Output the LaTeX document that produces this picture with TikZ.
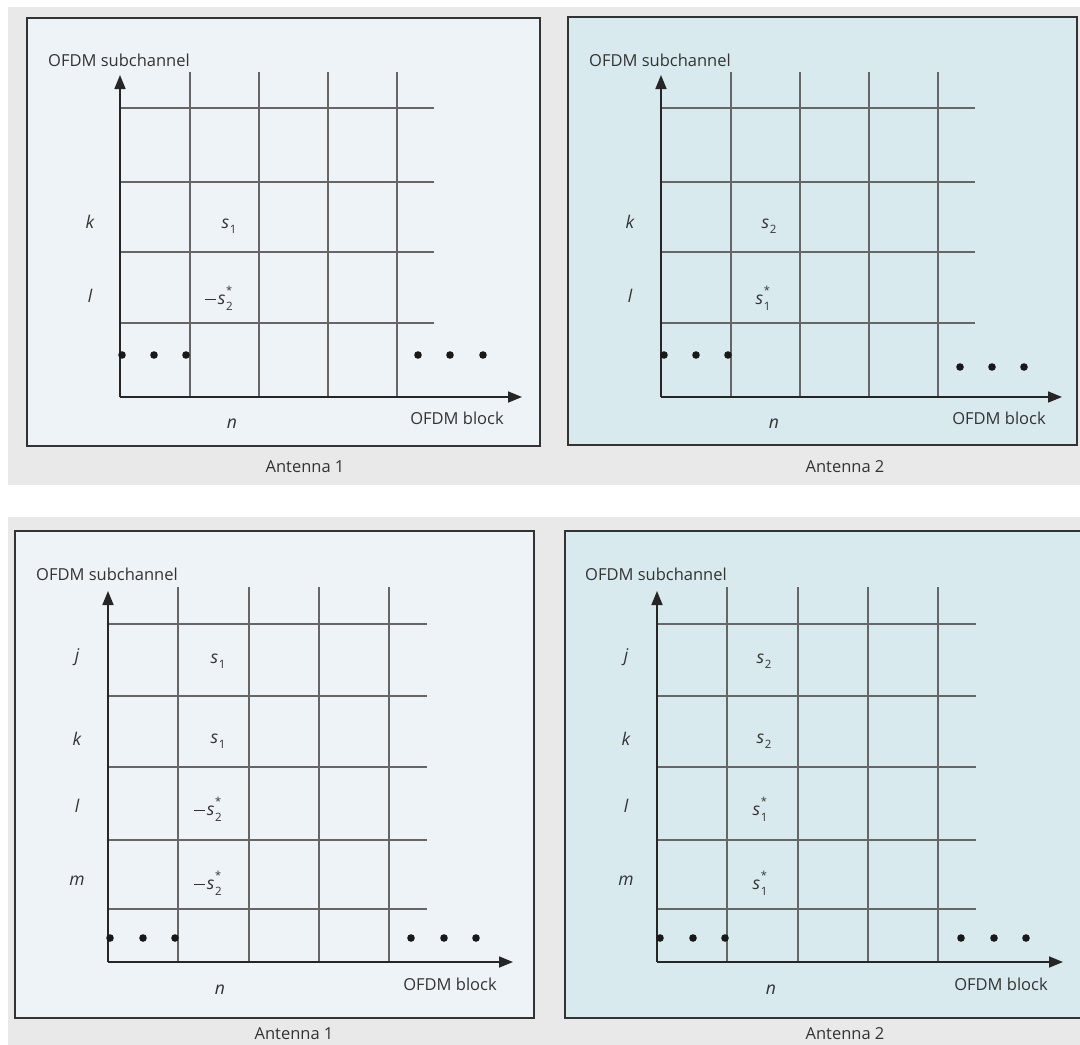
\documentclass[tikz,border=0pt]{standalone}
\usepackage{fontspec}
\setmainfont{Open Sans}
\usetikzlibrary{arrows.meta}
\definecolor{fondgris}{HTML}{E9E9E9}
\definecolor{antA}{HTML}{EEF3F7}
\definecolor{antB}{HTML}{D8EAEE}
\definecolor{encre}{HTML}{333333}
\newcommand{\moins}{\rule[0.27em]{0.6em}{0.07em}\hspace{0.12em}}
\newcommand{\sconj}[1]{\textit{s}\hspace{0.05em}\makebox[0pt][l]{\raisebox{0.6em}{\fontsize{11}{11}\selectfont\upshape *}}\raisebox{-0.3em}{\fontsize{11.5}{11.5}\selectfont\upshape #1}}
\newcommand{\ssub}[1]{\textit{s}\hspace{0.05em}\raisebox{-0.3em}{\fontsize{11.5}{11.5}\selectfont\upshape #1}}
\tikzset{cadre/.style={draw=encre,line width=1.6pt},axe/.style={-{Triangle[length=14pt,width=11pt]},draw=black!85,line width=1.7pt},grille/.style={draw=black!60,line width=1.1pt},lbl/.style={font=\fontsize{16.5}{19}\selectfont,text=encre,inner sep=0pt},sym/.style={font=\fontsize{17.5}{20}\selectfont\itshape,text=encre,inner sep=0pt},pt/.style={fill=black!90}}

\begin{document}
\begin{tikzpicture}[x=1pt,y=-1pt]
\useasboundingbox (0,0) rectangle (1080,1045);
\fill[white] (0,0) rectangle (1080,1045);
\fill[fondgris] (8,7) rectangle (1080,485);
\fill[fondgris] (8,517) rectangle (1080,1045);
% haut : alamouti sur deux sous-porteuses
\filldraw[cadre,fill=antA] (27,18) rectangle (540,446);
\filldraw[cadre,fill=antB] (568,17) rectangle (1077,445);
\foreach \dx in {0,541}{
  \begin{scope}[xshift=\dx]
  \foreach \c in {190,259,328,397} \draw[grille] (\c,72) -- (\c,397);
  \foreach \r in {108,182,252,323} \draw[grille] (120,\r) -- (434,\r);
  \end{scope}}
\coordinate (o1) at (120,397); \coordinate (y1) at (120,75); \coordinate (x1) at (522,397);
\coordinate (o2) at (661,397); \coordinate (y2) at (661,75); \coordinate (x2) at (1062,397);
\draw[axe] (o1) -- (y1); \draw[axe] (o1) -- (x1);
\draw[axe] (o2) -- (y2); \draw[axe] (o2) -- (x2);
\foreach \x in {122,154,186,418,450,483} \fill[pt] (\x,355) circle (3.8pt);
\foreach \x in {664,696,728} \fill[pt] (\x,355) circle (3.8pt);
\foreach \x in {960,992,1024} \fill[pt] (\x,367) circle (3.8pt);
\node[lbl] (sc1) at (119,60) {OFDM subchannel};
\node[lbl] (sc2) at (660,60) {OFDM subchannel};
\node[lbl] (bl1) at (457,418) {OFDM block};
\node[lbl] (bl2) at (999,418) {OFDM block};
\node[lbl] (an1) at (305,467) {Antenna 1};
\node[lbl] (an2) at (845,467) {Antenna 2};
\node[sym] (k1) at (90,222) {k}; \node[sym] (l1) at (90,296) {l}; \node[sym] (n1) at (232,424) {n};
\node[sym] (k2) at (630,222) {k}; \node[sym] (l2) at (630,296) {l}; \node[sym] (n2) at (774,424) {n};
\node[sym] (a11) at (229,226) {\ssub{1}}; \node[sym] (a12) at (219,298) {\moins\sconj{2}};
\node[sym] (b11) at (769,226) {\ssub{2}}; \node[sym] (b12) at (763,298) {\sconj{1}};
% bas : repetition sur quatre sous-porteuses
\filldraw[cadre,fill=antA] (15,531) rectangle (534,1018);
\filldraw[cadre,fill=antB] (565,531) rectangle (1084,1018);
\foreach \dx in {0,549}{
  \begin{scope}[xshift=\dx]
  \foreach \c in {178,249,319,389} \draw[grille] (\c,587) -- (\c,962);
  \foreach \r in {624,696,767,840,909} \draw[grille] (108,\r) -- (427,\r);
  \end{scope}}
\coordinate (o3) at (108,962); \coordinate (y3) at (108,591); \coordinate (x3) at (513,962);
\coordinate (o4) at (657,962); \coordinate (y4) at (657,591); \coordinate (x4) at (1063,962);
\draw[axe] (o3) -- (y3); \draw[axe] (o3) -- (x3);
\draw[axe] (o4) -- (y4); \draw[axe] (o4) -- (x4);
\foreach \x in {110,143,175,411,444,476,660,693,725,961,994,1026} \fill[pt] (\x,938) circle (3.8pt);
\node[lbl] (sc3) at (107,574) {OFDM subchannel};
\node[lbl] (sc4) at (656,574) {OFDM subchannel};
\node[lbl] (bl3) at (450,984) {OFDM block};
\node[lbl] (bl4) at (1001,984) {OFDM block};
\node[lbl] (an3) at (294,1034) {Antenna 1};
\node[lbl] (an4) at (845,1034) {Antenna 2};
\node[sym] (j3) at (77,657) {j}; \node[sym] (k3) at (77,739) {k}; \node[sym] (l3) at (77,806) {l}; \node[sym] (m3) at (77,881) {m}; \node[sym] (n3) at (220,990) {n};
\node[sym] (j4) at (626,657) {j}; \node[sym] (k4) at (626,739) {k}; \node[sym] (l4) at (626,806) {l}; \node[sym] (m4) at (626,881) {m}; \node[sym] (n4) at (771,990) {n};
\node[sym] (c31) at (218,661) {\ssub{1}}; \node[sym] (c32) at (218,741) {\ssub{1}};
\node[sym] (c33) at (208,809) {\moins\sconj{2}}; \node[sym] (c34) at (208,883) {\moins\sconj{2}};
\node[sym] (d41) at (764,661) {\ssub{2}}; \node[sym] (d42) at (764,741) {\ssub{2}};
\node[sym] (d43) at (760,809) {\sconj{1}}; \node[sym] (d44) at (760,883) {\sconj{1}};
\end{tikzpicture}
\end{document}
